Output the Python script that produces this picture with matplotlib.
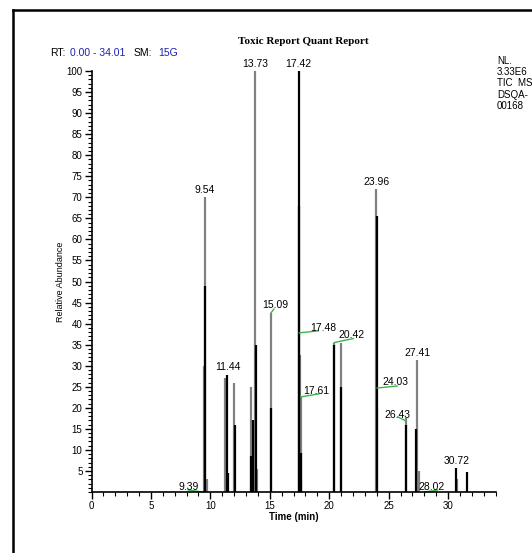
import matplotlib
matplotlib.use("Agg")
import matplotlib.pyplot as plt
from matplotlib.lines import Line2D
from matplotlib.ticker import MultipleLocator, FixedLocator

# chromatogram (relative abundance, %)

# lighter (grey) trace
gray_rt = [9.47, 9.52, 9.70, 11.22, 11.30, 12.02, 13.42, 13.62, 13.73, 13.90,
           15.09, 17.50, 17.60, 17.66, 20.36, 21.00, 23.96, 24.02, 26.43,
           27.41, 27.52, 30.74]
gray_h = [30, 70, 3, 27, 4, 26, 25, 15, 100, 5.5,
          42.5, 32.5, 22.6, 3, 35.5, 35.4, 72, 20, 17.5,
          31.3, 5, 3]

# darker (black) trace
black_rt = [9.58, 11.40, 11.46, 12.06, 13.38, 13.58, 13.80, 15.12, 17.42,
            17.45, 17.63, 20.40, 21.02, 23.98, 26.47, 27.32, 30.70, 31.62]
black_h = [49, 27.8, 4.5, 16, 8.5, 17, 35, 20, 100,
           68, 9.2, 35, 25, 65.5, 16, 15, 5.7, 4.8]

# plain peak labels (above the apex)
top_labels = ["9.54", "11.44", "13.73", "17.42", "23.96", "27.41", "30.72"]
top_heights = [70, 28, 100, 100, 72, 31.3, 5.7]

# manually integrated peaks (green tie line to label)
tie_labels = ["9.39", "15.09", "17.48", "17.61", "20.42", "24.03", "26.43", "28.02"]
tie_heights = [0, 42.5, 37.8, 22.6, 35.5, 24.7, 16.9, 0]
# pixel offsets from the anchor: end of green line, centre of label
tie_line_off = [(-15, 2), (3, 4), (19, 2), (18, 3), (19, 4), (20, 2), (-8, 4), (13, 2)]
tie_text_off = [(-14, 5), (4, 8), (24, 5), (15, 6), (17, 8), (18, 6), (-8, 6), (7, 5)]

W, H = 532, 553
fig = plt.figure(figsize=(W / 100, H / 100), dpi=100)
plt.rcParams["font.family"] = ["Liberation Sans", "DejaVu Sans"]

ax_box = [0.172, 0.1103, 0.760, 0.7613]
ax = fig.add_axes(ax_box)
xmax = 34.01
# data units per pixel, for the short green tie lines
dx_px = xmax / (ax_box[2] * W)
dy_px = 100 / (ax_box[3] * H)

ax.vlines(gray_rt, 0, gray_h, color="#808080", lw=1.6, clip_on=False)
ax.vlines(black_rt, 0, black_h, color="black", lw=1.6, clip_on=False)

for lab, h in zip(top_labels, top_heights):
    ax.annotate(lab, xy=(float(lab), h), xytext=(0, 2), textcoords="offset pixels",
                ha="center", va="bottom", fontsize=7.5, annotation_clip=False)

for lab, h, loff, toff in zip(tie_labels, tie_heights, tie_line_off, tie_text_off):
    x0 = float(lab)
    ax.plot([x0, x0 + loff[0] * dx_px], [h, h + loff[1] * dy_px],
            color="#3cb44b", lw=1.0, clip_on=False)
    ax.annotate(lab, xy=(x0, h), xytext=toff, textcoords="offset pixels",
                ha="center", va="center", fontsize=7.5, annotation_clip=False)

ax.set_xlim(0, xmax)
ax.set_ylim(0, 100)
ax.spines["top"].set_visible(False)
ax.spines["right"].set_visible(False)
ax.spines["left"].set_linewidth(1.2)
ax.spines["bottom"].set_linewidth(1.2)

ax.xaxis.set_major_locator(MultipleLocator(5))
ax.xaxis.set_minor_locator(MultipleLocator(1))
ax.yaxis.set_major_locator(FixedLocator(list(range(5, 101, 5))))
ax.yaxis.set_minor_locator(MultipleLocator(1))
ax.tick_params(which="major", direction="out", length=5, width=1, labelsize=7, pad=1.5)
ax.tick_params(which="minor", direction="out", length=3, width=0.8)

ax.set_xlabel("Time (min)", fontsize=7, fontweight="bold", labelpad=1)
ax.set_ylabel("Relative Abundance", fontsize=6.5, labelpad=1)

# header
fig.text(303 / W, 1 - 41 / H, "Toxic Report Quant Report", ha="center", va="center",
         fontsize=8, fontweight="bold", family="Liberation Serif")
ypos = 1 - 53 / H
fig.text(50 / W, ypos, "RT:", ha="left", va="center", fontsize=7.5)
fig.text(70 / W, ypos, "0.00 - 34.01", ha="left", va="center", fontsize=7.5, color="#1f1fb4")
fig.text(134 / W, ypos, "SM:", ha="left", va="center", fontsize=7.5)
fig.text(158 / W, ypos, "15G", ha="left", va="center", fontsize=7.5, color="#1f1fb4")

fig.text(497 / W, 1 - 56 / H, "NL.\n3.33E6\nTIC  MS\nDSQA-\n00168", ha="left", va="top",
         fontsize=7, linespacing=1.15)

# page frame
fig.add_artist(Line2D([13 / W, 13 / W], [0, 1 - 10 / H], color="black", lw=1.8,
                      transform=fig.transFigure))
fig.add_artist(Line2D([13 / W, 1], [1 - 10 / H, 1 - 10 / H], color="black", lw=1.8,
                      transform=fig.transFigure))

fig.savefig("out.png", dpi=100)
